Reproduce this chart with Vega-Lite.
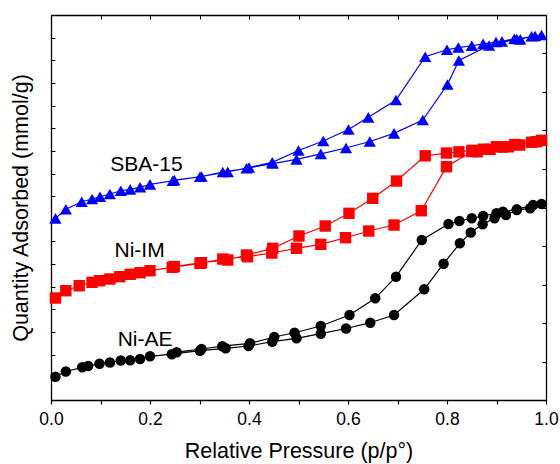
{
  "$schema": "https://vega.github.io/schema/vega-lite/v6.json",
  "width": 495,
  "height": 385,
  "autosize": "none",
  "padding": {"left": 51, "top": 15, "right": 14, "bottom": 64},
  "background": "white",
  "config": {"font": "Liberation Sans", "view": {"stroke": null}},
  "datasets": {
    "iso": [
      {"s":"SBA-15","i":1,"x":0.009,"y":8.02},{"s":"SBA-15","i":2,"x":0.030,"y":8.42},{"s":"SBA-15","i":3,"x":0.062,"y":8.755},{"s":"SBA-15","i":4,"x":0.083,"y":8.874},{"s":"SBA-15","i":5,"x":0.099,"y":8.976},{"s":"SBA-15","i":6,"x":0.119,"y":9.095},{"s":"SBA-15","i":7,"x":0.141,"y":9.241},{"s":"SBA-15","i":8,"x":0.160,"y":9.302},{"s":"SBA-15","i":9,"x":0.180,"y":9.391},{"s":"SBA-15","i":10,"x":0.200,"y":9.523},{"s":"SBA-15","i":11,"x":0.246,"y":9.682},{"s":"SBA-15","i":12,"x":0.301,"y":9.859},{"s":"SBA-15","i":13,"x":0.347,"y":10.066},{"s":"SBA-15","i":14,"x":0.395,"y":10.23},{"s":"SBA-15","i":15,"x":0.448,"y":10.44},{"s":"SBA-15","i":16,"x":0.496,"y":10.627},{"s":"SBA-15","i":17,"x":0.545,"y":10.87},{"s":"SBA-15","i":18,"x":0.596,"y":11.126},{"s":"SBA-15","i":19,"x":0.644,"y":11.413},{"s":"SBA-15","i":20,"x":0.693,"y":11.775},{"s":"SBA-15","i":21,"x":0.751,"y":12.362},{"s":"SBA-15","i":22,"x":0.801,"y":13.929},{"s":"SBA-15","i":23,"x":0.824,"y":14.989},{"s":"SBA-15","i":24,"x":0.885,"y":15.651},{"s":"SBA-15","i":25,"x":0.941,"y":15.938},{"s":"SBA-15","i":26,"x":0.991,"y":16.115},
      {"s":"SBA-15","i":27,"x":0.978,"y":16.071},{"s":"SBA-15","i":28,"x":0.971,"y":16.06},{"s":"SBA-15","i":29,"x":0.948,"y":15.925},{"s":"SBA-15","i":30,"x":0.936,"y":15.951},{"s":"SBA-15","i":31,"x":0.911,"y":15.837},{"s":"SBA-15","i":32,"x":0.899,"y":15.806},{"s":"SBA-15","i":33,"x":0.873,"y":15.726},{"s":"SBA-15","i":34,"x":0.850,"y":15.642},{"s":"SBA-15","i":35,"x":0.823,"y":15.563},{"s":"SBA-15","i":36,"x":0.800,"y":15.466},{"s":"SBA-15","i":37,"x":0.756,"y":15.157},{"s":"SBA-15","i":38,"x":0.697,"y":13.245},{"s":"SBA-15","i":39,"x":0.641,"y":12.481},{"s":"SBA-15","i":40,"x":0.601,"y":11.943},{"s":"SBA-15","i":41,"x":0.550,"y":11.435},{"s":"SBA-15","i":42,"x":0.500,"y":11.015},{"s":"SBA-15","i":43,"x":0.447,"y":10.494},{"s":"SBA-15","i":44,"x":0.400,"y":10.265},{"s":"SBA-15","i":45,"x":0.357,"y":10.075},{"s":"SBA-15","i":46,"x":0.304,"y":9.868},{"s":"SBA-15","i":47,"x":0.249,"y":9.713},
      {"s":"Ni-IM","i":1,"x":0.009,"y":4.503},{"s":"Ni-IM","i":2,"x":0.030,"y":4.826},{"s":"Ni-IM","i":3,"x":0.057,"y":5.046},{"s":"Ni-IM","i":4,"x":0.083,"y":5.196},{"s":"Ni-IM","i":5,"x":0.098,"y":5.267},{"s":"Ni-IM","i":6,"x":0.119,"y":5.342},{"s":"Ni-IM","i":7,"x":0.139,"y":5.444},{"s":"Ni-IM","i":8,"x":0.160,"y":5.55},{"s":"Ni-IM","i":9,"x":0.180,"y":5.62},{"s":"Ni-IM","i":10,"x":0.200,"y":5.709},{"s":"Ni-IM","i":11,"x":0.245,"y":5.859},{"s":"Ni-IM","i":12,"x":0.301,"y":6.035},{"s":"Ni-IM","i":13,"x":0.347,"y":6.225},{"s":"Ni-IM","i":14,"x":0.397,"y":6.327},{"s":"Ni-IM","i":15,"x":0.446,"y":6.49},{"s":"Ni-IM","i":16,"x":0.496,"y":6.698},{"s":"Ni-IM","i":17,"x":0.545,"y":6.874},{"s":"Ni-IM","i":18,"x":0.595,"y":7.166},{"s":"Ni-IM","i":19,"x":0.642,"y":7.461},{"s":"Ni-IM","i":20,"x":0.693,"y":7.726},{"s":"Ni-IM","i":21,"x":0.748,"y":8.358},{"s":"Ni-IM","i":22,"x":0.799,"y":10.3},{"s":"Ni-IM","i":23,"x":0.850,"y":10.971},{"s":"Ni-IM","i":24,"x":0.887,"y":11.068},{"s":"Ni-IM","i":25,"x":0.937,"y":11.28},{"s":"Ni-IM","i":26,"x":0.991,"y":11.466},
      {"s":"Ni-IM","i":27,"x":0.981,"y":11.404},{"s":"Ni-IM","i":28,"x":0.971,"y":11.382},{"s":"Ni-IM","i":29,"x":0.947,"y":11.258},{"s":"Ni-IM","i":30,"x":0.924,"y":11.183},{"s":"Ni-IM","i":31,"x":0.912,"y":11.17},{"s":"Ni-IM","i":32,"x":0.900,"y":11.183},{"s":"Ni-IM","i":33,"x":0.874,"y":11.073},{"s":"Ni-IM","i":34,"x":0.861,"y":10.962},{"s":"Ni-IM","i":35,"x":0.851,"y":11.024},{"s":"Ni-IM","i":36,"x":0.824,"y":10.958},{"s":"Ni-IM","i":37,"x":0.799,"y":10.905},{"s":"Ni-IM","i":38,"x":0.756,"y":10.781},{"s":"Ni-IM","i":39,"x":0.698,"y":9.669},{"s":"Ni-IM","i":40,"x":0.650,"y":8.905},{"s":"Ni-IM","i":41,"x":0.602,"y":8.243},{"s":"Ni-IM","i":42,"x":0.554,"y":7.682},{"s":"Ni-IM","i":43,"x":0.501,"y":7.241},{"s":"Ni-IM","i":44,"x":0.448,"y":6.698},{"s":"Ni-IM","i":45,"x":0.395,"y":6.402},{"s":"Ni-IM","i":46,"x":0.357,"y":6.181},{"s":"Ni-IM","i":47,"x":0.304,"y":6.062},{"s":"Ni-IM","i":48,"x":0.249,"y":5.894},
      {"s":"Ni-AE","i":1,"x":0.009,"y":1.029},{"s":"Ni-AE","i":2,"x":0.030,"y":1.258},{"s":"Ni-AE","i":3,"x":0.063,"y":1.444},{"s":"Ni-AE","i":4,"x":0.075,"y":1.501},{"s":"Ni-AE","i":5,"x":0.098,"y":1.603},{"s":"Ni-AE","i":6,"x":0.119,"y":1.656},{"s":"Ni-AE","i":7,"x":0.141,"y":1.744},{"s":"Ni-AE","i":8,"x":0.160,"y":1.753},{"s":"Ni-AE","i":9,"x":0.180,"y":1.81},{"s":"Ni-AE","i":10,"x":0.200,"y":1.929},{"s":"Ni-AE","i":11,"x":0.244,"y":2.022},{"s":"Ni-AE","i":12,"x":0.301,"y":2.177},{"s":"Ni-AE","i":13,"x":0.353,"y":2.283},{"s":"Ni-AE","i":14,"x":0.399,"y":2.384},{"s":"Ni-AE","i":15,"x":0.447,"y":2.574},{"s":"Ni-AE","i":16,"x":0.496,"y":2.724},{"s":"Ni-AE","i":17,"x":0.545,"y":2.927},{"s":"Ni-AE","i":18,"x":0.596,"y":3.157},{"s":"Ni-AE","i":19,"x":0.645,"y":3.413},{"s":"Ni-AE","i":20,"x":0.693,"y":3.753},{"s":"Ni-AE","i":21,"x":0.754,"y":4.887},{"s":"Ni-AE","i":22,"x":0.793,"y":6.018},{"s":"Ni-AE","i":23,"x":0.826,"y":6.918},{"s":"Ni-AE","i":24,"x":0.848,"y":7.395},{"s":"Ni-AE","i":25,"x":0.872,"y":7.757},{"s":"Ni-AE","i":26,"x":0.896,"y":8.022},{"s":"Ni-AE","i":27,"x":0.919,"y":8.168},{"s":"Ni-AE","i":28,"x":0.941,"y":8.389},{"s":"Ni-AE","i":29,"x":0.968,"y":8.464},{"s":"Ni-AE","i":30,"x":0.991,"y":8.653},
      {"s":"Ni-AE","i":31,"x":0.974,"y":8.609},{"s":"Ni-AE","i":32,"x":0.941,"y":8.419},{"s":"Ni-AE","i":33,"x":0.913,"y":8.313},{"s":"Ni-AE","i":34,"x":0.900,"y":8.243},{"s":"Ni-AE","i":35,"x":0.873,"y":8.124},{"s":"Ni-AE","i":36,"x":0.850,"y":8.022},{"s":"Ni-AE","i":37,"x":0.825,"y":7.903},{"s":"Ni-AE","i":38,"x":0.803,"y":7.77},{"s":"Ni-AE","i":39,"x":0.749,"y":7.064},{"s":"Ni-AE","i":40,"x":0.697,"y":5.444},{"s":"Ni-AE","i":41,"x":0.655,"y":4.49},{"s":"Ni-AE","i":42,"x":0.603,"y":3.753},{"s":"Ni-AE","i":43,"x":0.545,"y":3.267},{"s":"Ni-AE","i":44,"x":0.492,"y":2.971},{"s":"Ni-AE","i":45,"x":0.451,"y":2.781},{"s":"Ni-AE","i":46,"x":0.402,"y":2.503},{"s":"Ni-AE","i":47,"x":0.346,"y":2.375},{"s":"Ni-AE","i":48,"x":0.304,"y":2.252},{"s":"Ni-AE","i":49,"x":0.254,"y":2.11}
    ],
    "labels": [
      {"t":"SBA-15","x":0.193,"y":10.38},
      {"t":"Ni-IM","x":0.179,"y":6.58},
      {"t":"Ni-AE","x":0.19,"y":2.67}
    ]
  },
  "resolve": {"axis": {"x": "independent", "y": "independent"}},
  "layer": [
    {
      "data": {"name": "iso"},
      "mark": {"type": "line", "strokeWidth": 1.2},
      "encoding": {
        "x": {"field": "x", "type": "quantitative",
          "scale": {"domain": [0, 1], "nice": false, "zero": false},
          "axis": {"orient": "bottom", "title": "Relative Pressure (p/p°)",
            "values": [0,0.1,0.2,0.3,0.4,0.5,0.6,0.7,0.8,0.9,1.0],
            "labelExpr": "round(datum.value*10) % 2 === 0 ? format(datum.value, '.1f') : ''",
            "grid": false, "domainColor": "black", "domainWidth": 1.3, "tickColor": "black", "tickWidth": 1.2, "tickSize": 4,
            "labelFontSize": 17.5, "labelColor": "black", "labelPadding": 6, "labelFlush": false,
            "titleFontSize": 21.5, "titleFontWeight": "normal", "titleColor": "black", "titlePadding": 13}},
        "y": {"field": "y", "type": "quantitative",
          "scale": {"domain": [0, 17], "nice": false, "zero": false},
          "axis": {"orient": "left", "title": "Quantity Adsorbed (mmol/g)",
            "values": [0,1,2,3,4,5,6,7,8,9,10,11,12,13,14,15,16,17],
            "labels": false, "grid": false, "domainColor": "black", "domainWidth": 1.3, "tickColor": "black", "tickWidth": 1, "tickSize": -4,
            "titleFontSize": 21.5, "titleFontWeight": "normal", "titleColor": "black", "titlePadding": 18}},
        "color": {"field": "s", "type": "nominal", "legend": null,
          "scale": {"domain": ["SBA-15", "Ni-IM", "Ni-AE"], "range": ["#0000ff", "#ff0000", "#000000"]}},
        "order": {"field": "i", "type": "quantitative"}
      }
    },
    {
      "data": {"name": "iso"},
      "mark": {"type": "point", "filled": true, "opacity": 1},
      "encoding": {
        "x": {"field": "x", "type": "quantitative", "axis": null},
        "y": {"field": "y", "type": "quantitative", "axis": null},
        "color": {"field": "s", "type": "nominal", "legend": null},
        "shape": {"field": "s", "type": "nominal", "legend": null,
          "scale": {"domain": ["SBA-15", "Ni-IM", "Ni-AE"], "range": ["triangle-up", "square", "circle"]}},
        "size": {"field": "s", "type": "nominal", "legend": null,
          "scale": {"domain": ["SBA-15", "Ni-IM", "Ni-AE"], "range": [150, 110, 125]}}
      }
    },
    {
      "data": {"name": "labels"},
      "mark": {"type": "text", "fontSize": 21, "color": "black", "align": "center", "baseline": "middle"},
      "encoding": {
        "x": {"field": "x", "type": "quantitative", "axis": null},
        "y": {"field": "y", "type": "quantitative", "axis": null},
        "text": {"field": "t"}
      }
    },
    {
      "data": {"values": [{"x": 0, "y": 0}]},
      "mark": {"type": "point", "opacity": 0},
      "encoding": {
        "x": {"field": "x", "type": "quantitative",
          "axis": {"orient": "top", "title": null, "labels": false,
            "values": [0,0.1,0.2,0.3,0.4,0.5,0.6,0.7,0.8,0.9,1.0],
            "grid": false, "domainColor": "black", "domainWidth": 1.3, "tickColor": "black", "tickWidth": 1, "tickSize": -4}},
        "y": {"field": "y", "type": "quantitative",
          "axis": {"orient": "right", "title": null, "labels": false,
            "values": [0,1.7,3.4,5.1,6.8,8.5,10.2,11.9,13.6,15.3,17],
            "grid": false, "domainColor": "black", "domainWidth": 1.3, "tickColor": "black", "tickWidth": 1, "tickSize": -4}}
      }
    }
  ]
}
